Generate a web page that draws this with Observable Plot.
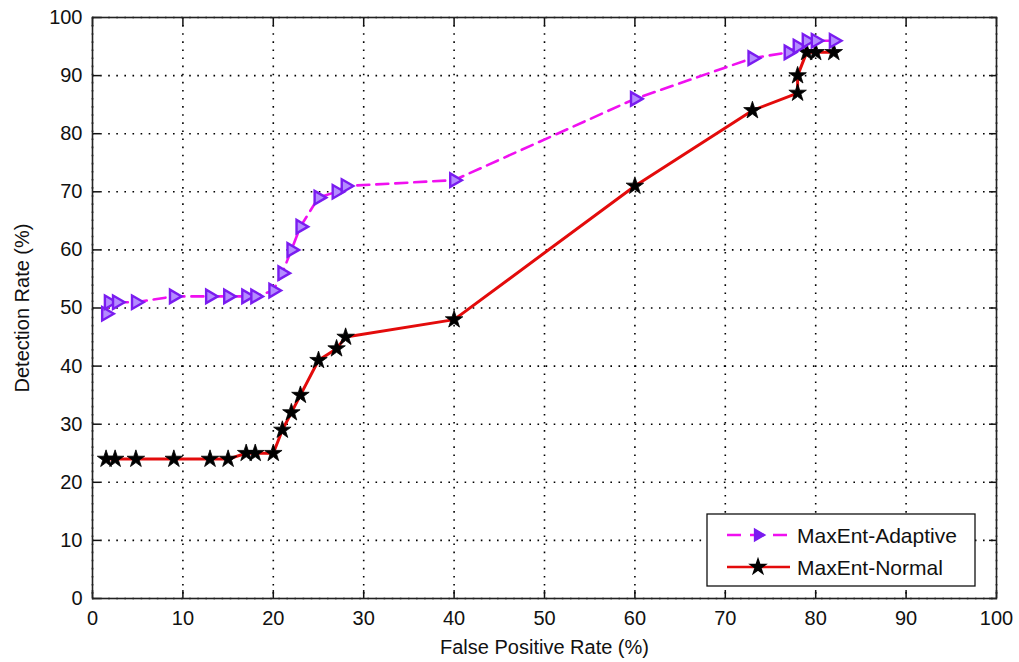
<!DOCTYPE html>
<html><head><meta charset="utf-8">
<script src="https://cdn.jsdelivr.net/npm/d3@7"></script>
<script src="https://cdn.jsdelivr.net/npm/@observablehq/plot@0.6"></script>
<style>body{margin:0;background:#fff} #chart{width:1019px;height:662px}</style>
</head><body><div id="chart"></div>
<script>
const xTicks = [0, 10, 20, 30, 40, 50, 60, 70, 80, 90, 100];
const yTicks = [0, 10, 20, 30, 40, 50, 60, 70, 80, 90, 100];
const seriesNames = ["MaxEnt-Adaptive", "MaxEnt-Normal"];
const xLabel = "False Positive Rate (%)";
const yLabel = "Detection Rate (%)";

const adaptiveFPR = [1.5, 1.8, 2.7, 4.8, 9, 13, 15, 17, 18, 20, 21, 22, 23, 25, 27, 28, 40, 60, 73, 77, 78, 79, 80, 82];
const adaptiveDR  = [49, 51, 51, 51, 52, 52, 52, 52, 52, 53, 56, 60, 64, 69, 70, 71, 72, 86, 93, 94, 95, 96, 96, 96];
const normalFPR = [1.5, 2.5, 4.8, 9, 13, 15, 17, 18, 20, 21, 22, 23, 25, 27, 28, 40, 60, 73, 78, 78, 79, 80, 82];
const normalDR  = [24, 24, 24, 24, 24, 24, 25, 25, 25, 29, 32, 35, 41, 43, 45, 48, 71, 84, 87, 90, 94, 94, 94];

const adaptive = adaptiveFPR.map((x, i) => ({x, y: adaptiveDR[i]}));
const normal = normalFPR.map((x, i) => ({x, y: normalDR[i]}));

const magenta = "#f010f0", violet = "#7a1cf0", violetFill = "#b48cff", red = "#e30b0b";

function legend(index, scales, values, dims) {
  const g = d3.create("svg:g");
  const right = dims.width - dims.marginRight - 21;
  const bottom = dims.height - dims.marginBottom - 12;
  const w = 268, h = 72;
  const x0 = right - w, y0 = bottom - h;
  g.append("rect").attr("x", x0).attr("y", y0).attr("width", w).attr("height", h)
    .attr("fill", "white").attr("stroke", "#111").attr("stroke-width", 1.3);
  const rows = [
    {name: seriesNames[0], dy: 21, color: magenta, dash: "14,9", sym: d3.symbolTriangle, rot: 90, mf: violet, ms: violet},
    {name: seriesNames[1], dy: 53, color: red, dash: null, sym: d3.symbolStar, rot: 0, mf: "#000", ms: "#000"}
  ];
  for (const r of rows) {
    const y = y0 + r.dy;
    const l = g.append("line").attr("x1", x0 + 20).attr("x2", x0 + 83).attr("y1", y).attr("y2", y)
      .attr("stroke", r.color).attr("stroke-width", 2.6);
    if (r.dash) l.attr("stroke-dasharray", r.dash).attr("stroke-dashoffset", 0);
    g.append("path").attr("d", d3.symbol(r.sym, r.rot ? 60 : 70)())
      .attr("transform", `translate(${x0 + 51},${y}) rotate(${r.rot})`)
      .attr("fill", r.mf).attr("stroke", r.ms).attr("stroke-width", 1.5);
    g.append("text").attr("x", x0 + 90).attr("y", y).attr("dy", "0.36em")
      .attr("text-anchor", "start")
      .attr("font-size", 21).attr("fill", "#111").text(r.name);
  }
  return g.node();
}

const chart = Plot.plot({
  width: 1019,
  height: 662,
  marginLeft: 92,
  marginRight: 23,
  marginTop: 17,
  marginBottom: 64,
  style: {fontFamily: "'Liberation Sans', Arial, sans-serif", fontSize: "20px", color: "#111", background: "white"},
  x: {domain: [0, 100], ticks: xTicks},
  y: {domain: [0, 100], ticks: yTicks},
  marks: [
    Plot.gridX(xTicks, {stroke: "#000", strokeOpacity: 1, strokeWidth: 1.6, strokeDasharray: "1.6,6.5"}),
    Plot.gridY(yTicks, {stroke: "#000", strokeOpacity: 1, strokeWidth: 1.6, strokeDasharray: "1.6,6.5"}),
    Plot.axisX(xTicks, {anchor: "bottom", tickSize: 0, tickPadding: 12, label: xLabel, labelAnchor: "center", labelArrow: "none", labelOffset: 55, fontSize: 20}),
    Plot.axisY(yTicks, {anchor: "left", tickSize: 0, tickPadding: 10, label: yLabel, labelAnchor: "center", labelArrow: "none", labelOffset: 78, fontSize: 20}),
    Plot.axisX(xTicks, {anchor: "bottom", tickSize: -8, text: null, label: null, strokeWidth: 1.5}),
    Plot.axisX(xTicks, {anchor: "top", tickSize: -8, text: null, label: null, strokeWidth: 1.5}),
    Plot.axisY(yTicks, {anchor: "left", tickSize: -8, text: null, label: null, strokeWidth: 1.5}),
    Plot.axisY(yTicks, {anchor: "right", tickSize: -8, text: null, label: null, strokeWidth: 1.5}),
    Plot.frame({stroke: "#222", strokeWidth: 1.6}),
    Plot.line(normal, {x: "x", y: "y", stroke: red, strokeWidth: 3}),
    Plot.line(adaptive, {x: "x", y: "y", stroke: magenta, strokeWidth: 2.6, strokeDasharray: "12,7"}),
    Plot.dot(normal, {x: "x", y: "y", symbol: "star", r: 5.5, fill: "#000", stroke: "#000", strokeWidth: 0.8}),
    Plot.dot(adaptive, {x: "x", y: "y", symbol: "triangle", rotate: 90, r: 5, fill: violetFill, stroke: violet, strokeWidth: 2.4}),
    legend
  ]
});
document.getElementById("chart").appendChild(chart);
</script>
</body></html>
